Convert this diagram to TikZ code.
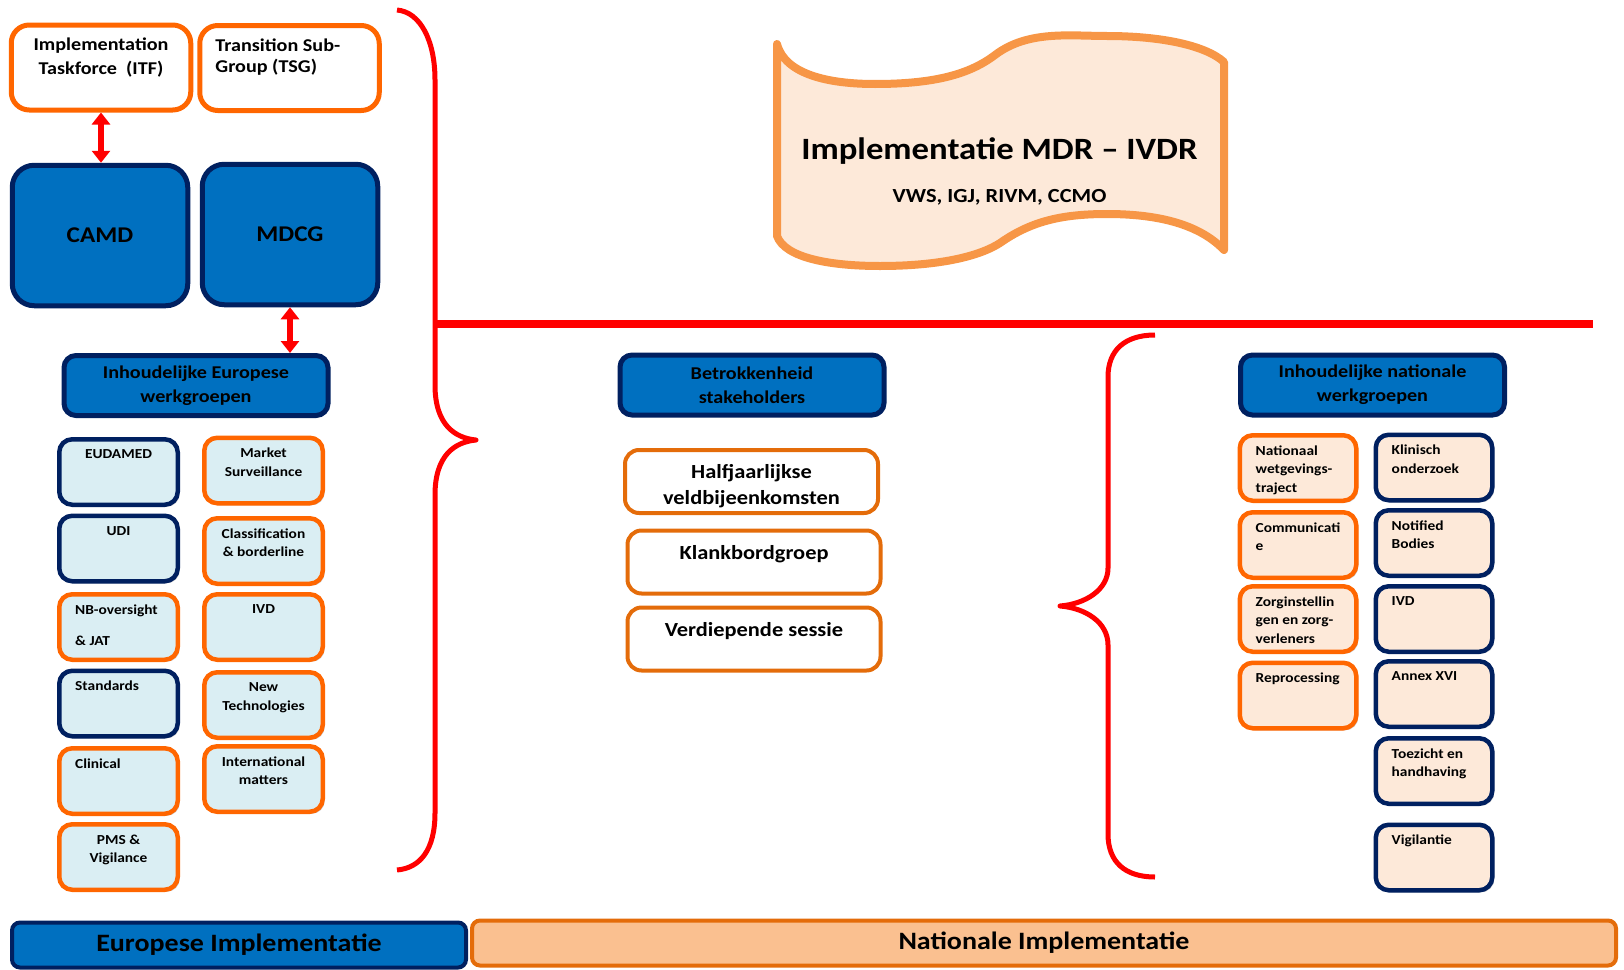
\documentclass[tikz,border=0pt]{standalone}
\usepackage{fontspec}
\setmainfont{Carlito}[FakeStretch=1.12]
\usetikzlibrary{arrows.meta,shadows}

\definecolor{camdblue}{HTML}{0070C0}
\definecolor{navyline}{HTML}{002060}
\definecolor{wgorange}{HTML}{FF6600}
\definecolor{stkorange}{HTML}{E46C0A}
\definecolor{paleblue}{HTML}{DAEEF3}
\definecolor{palepeach}{HTML}{FDE9D9}
\definecolor{barpeach}{HTML}{FAC090}
\definecolor{scrollorange}{HTML}{F79646}
\definecolor{redline}{HTML}{FF0000}

\newcommand\wgtxt{\bfseries\fontsize{13.75}{18.5}\selectfont}
\newcommand\toptxt{\bfseries\fontsize{18}{24}\selectfont}
\newcommand\hdrtxt{\bfseries\fontsize{18}{24}\selectfont}
\newcommand\camdtxt{\bfseries\fontsize{22.5}{27}\selectfont}
\newcommand\stktxt{\bfseries\fontsize{20}{26}\selectfont}
\newcommand\bartxt{\bfseries\fontsize{25}{30}\selectfont}
\newcommand\titletxt{\bfseries\fontsize{31}{36}\selectfont}
\newcommand\subtxt{\bfseries\fontsize{20}{24}\selectfont}

\begin{document}
\begin{tikzpicture}[x=1pt,y=-1pt,
    wg/.style={line width=4.5, rounded corners=13, minimum width=118.5, minimum height=65.5, inner sep=0,
      drop shadow={shadow xshift=2pt, shadow yshift=-2pt, fill=black!40}},
    eu/.style={wg, fill=paleblue},
    nl/.style={wg, fill=palepeach, minimum width=116.5},
    nv/.style={draw=navyline},
    og/.style={draw=wgorange},
    wgtext/.style={anchor=north, inner sep=0, yshift=-12.5, align=center, font=\wgtxt},
    ctr/.style={label={[wgtext]north:#1}},
    lft/.style={label={[wgtext, anchor=north west, align=left, xshift=18]north west:#1}},
    topbox/.style={draw=wgorange, fill=white, line width=5, rounded corners=18, minimum width=179.5, minimum height=85},
    toptext/.style={anchor=north, inner sep=0, yshift=-15, align=center, font=\toptxt},
    bigbox/.style={draw=navyline, fill=camdblue, line width=5, rounded corners=22, minimum width=175.5, minimum height=140.5, font=\camdtxt},
    hdrbox/.style={draw=navyline, fill=camdblue, line width=5, rounded corners=12, minimum width=264, minimum height=60, inner sep=0, align=center, font=\hdrtxt},
    stkbox/.style={draw=stkorange, fill=white, line width=4, rounded corners=14, minimum width=253, minimum height=63},
    stktext/.style={anchor=north, inner sep=0, yshift=-16.5, align=center, font=\stktxt},
    bar/.style={line width=4, rounded corners=8, minimum height=45, inner sep=0, font=\bartxt},
    dblarrow/.style={redline, line width=6, {Triangle[width=18pt,length=12pt]}-{Triangle[width=18pt,length=12pt]}},
    brace/.style={redline, line width=5, line join=round}]
  \useasboundingbox (0,0) rectangle (1624,969);

  % europese kant
  \node[topbox, label={[toptext]north:Implementation\\Taskforce~~(ITF)}] (itf) at (101,67.5) {};
  \node[topbox, label={[toptext, anchor=north west, align=left, xshift=18, yshift=-1]north west:Transition Sub-\\[-3pt]Group (TSG)}] (tsg) at (289.5,68) {};
  \node[bigbox] (camd) at (100,235.5) {CAMD};
  \node[bigbox] (mdcg) at (290,234.5) {MDCG};
  \node[hdrbox] (euwg) at (196,385.5) {Inhoudelijke Europese\\werkgroepen};

  \draw[dblarrow] (itf.south) -- (itf.south |- camd.north);
  \draw[dblarrow] (mdcg.south) -- (mdcg.south |- euwg.north);

  \node[eu, nv, ctr=EUDAMED] (eudamed) at (118.5,472) {};
  \node[eu, og, ctr={Market\\Surveillance}] (marksurv) at (263.5,470.5) {};
  \node[eu, nv, ctr=UDI] (udi) at (118.5,548.5) {};
  \node[eu, og, ctr={Classification\\\& borderline}] (classbl) at (263.5,551) {};
  \node[eu, og, lft={NB-oversight\\[13pt]\& JAT}] (nbjat) at (118.5,627) {};
  \node[eu, og, ctr=IVD] (euivd) at (263.5,627) {};
  \node[eu, nv, lft=Standards] (standards) at (118.5,703.5) {};
  \node[eu, og, ctr={New\\Technologies}] (newtech) at (263.5,705) {};
  \node[eu, og, lft=Clinical] (clinical) at (118.5,781) {};
  \node[eu, og, ctr={International\\matters}] (intmat) at (263.5,779) {};
  \node[eu, og, ctr={PMS \&\\Vigilance}] (pmsvig) at (118.5,857) {};

  % accolades en scheidingslijn
  \draw[brace] (397,10) .. controls (420,12) and (435,40) .. (435,80) -- (435,385)
    .. controls (435,425) and (455,438) .. (476,440) .. controls (455,442) and (435,455) .. (435,495)
    -- (435,813) .. controls (435,850) and (420,868) .. (397,870);
  \draw[redline, line width=8] (435,324) -- (1593,324);
  \draw[brace] (1155,335) .. controls (1125,335) and (1108,350) .. (1108,377) -- (1108,568)
    .. controls (1108,590) and (1085,604) .. (1060,606) .. controls (1085,608) and (1108,622) .. (1108,645)
    -- (1108,834) .. controls (1108,862) and (1125,877) .. (1155,877);

  % banier
  \draw[scrollorange, fill=palepeach, line width=8, line join=round]
    (777,44) .. controls (785,75) and (830,84) .. (875,84) .. controls (935,84) and (970,74) .. (995,55)
    .. controls (1028,30) and (1070,36) .. (1107,36) .. controls (1160,36) and (1205,45) .. (1224,62)
    -- (1224,250) .. controls (1200,225) and (1160,214) .. (1107,214)
    .. controls (1060,214) and (1030,222) .. (1000,243) .. controls (975,259) and (930,266) .. (880,266)
    .. controls (830,266) and (785,258) .. (777,236) -- cycle;
  \node[font=\titletxt] (mdrtitle) at (999.5,151) {Implementatie MDR – IVDR};
  \node[font=\subtxt] (mdrorgs) at (999.5,197.5) {VWS, IGJ, RIVM, CCMO};

  % stakeholders
  \node[hdrbox] (stakeh) at (752,385) {Betrokkenheid\\stakeholders};
  \node[stkbox, label={[stktext]north:Halfjaarlijkse\\veldbijeenkomsten}] (halfj) at (751.5,481.5) {};
  \node[stkbox, label={[stktext]north:Klankbordgroep}] (klankb) at (754,562) {};
  \node[stkbox, label={[stktext]north:Verdiepende sessie}] (verdiep) at (754,639) {};

  % nationale kant
  \node[hdrbox] (natwg) at (1372.5,385) {Inhoudelijke nationale\\werkgroepen};
  \node[nl, og, lft={Nationaal\\wetgevings-\\traject}] (natwet) at (1298,468) {};
  \node[nl, nv, lft={Klinisch\\onderzoek}] (klinond) at (1434,467.5) {};
  \node[nl, og, lft={Communicati\\e}] (communic) at (1298,545) {};
  \node[nl, nv, lft={Notified\\Bodies}] (notbod) at (1434,543) {};
  \node[nl, og, lft={Zorginstellin\\gen en zorg-\\verleners}] (zorginst) at (1298,619) {};
  \node[nl, nv, lft=IVD] (nlivd) at (1434,619) {};
  \node[nl, og, lft=Reprocessing] (reproc) at (1298,695.5) {};
  \node[nl, nv, lft={Annex XVI}] (annex) at (1434,694) {};
  \node[nl, nv, lft={Toezicht en\\handhaving}] (toezicht) at (1434,771) {};
  \node[nl, nv, lft=Vigilantie] (vigil) at (1434,857.5) {};

  % balken
  \node[bar, fill=camdblue, draw=navyline, minimum width=454] (eubar) at (239,945) {Europese Implementatie};
  \node[bar, fill=barpeach, draw=stkorange, minimum width=1144] (nlbar) at (1044,943) {Nationale Implementatie};
\end{tikzpicture}
\end{document}
